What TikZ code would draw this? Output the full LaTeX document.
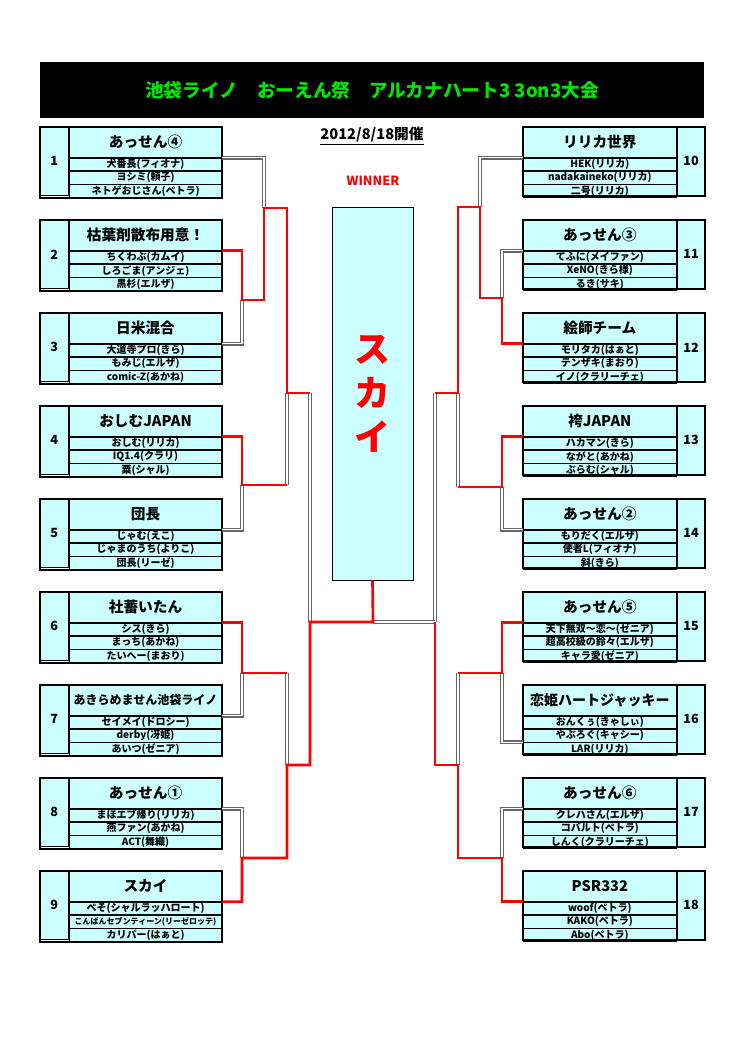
\documentclass[tikz,border=0pt]{standalone}
\usepackage{fontspec}
\setmainfont{Noto Sans CJK JP}
\usetikzlibrary{positioning}
\definecolor{cellcyan}{RGB}{204,255,255}
\definecolor{titlegreen}{RGB}{0,230,0}
\tikzset{
  cell/.style={draw=black, line width=0.5pt, fill=cellcyan, inner sep=0pt},
  numcell/.style={cell, minimum width=21pt, minimum height=51pt, font=\bfseries\fontsize{9.5}{10}\selectfont},
  headcell/.style={cell, minimum width=114.75pt, minimum height=22.5pt, font=\bfseries\fontsize{11}{12}\selectfont},
  rowcell/.style={cell, minimum width=114.75pt, minimum height=9.5pt, font=\bfseries\fontsize{7.5}{8}\selectfont},
  teamframe/.style={draw=black, line width=1.4pt},
  lost/.style={draw=black!60, double=white, double distance=0.9pt, line width=0.95pt},
  won/.style={draw=red, line width=2pt},
}
% チーム枠（左：番号が左、右：番号が右）
\newcommand\teamL[6]{%
  \node[numcell, anchor=north west] (n#1) at (40,#2) {#1};
  \node[headcell, anchor=north west] (h#1) at (n#1.north east) {#3};
  \node[rowcell, below=0pt of h#1] (a#1) {#4};
  \node[rowcell, below=0pt of a#1] (b#1) {#5};
  \node[rowcell, below=0pt of b#1] (c#1) {#6};
  \draw[teamframe] (n#1.north west) rectangle (c#1.south east);
  \draw[teamframe] (n#1.north east) -- (n#1.south east);
}
\newcommand\teamR[6]{%
  \node[headcell, anchor=north west] (h#1) at (523,#2) {#3};
  \node[numcell, anchor=north west] (n#1) at (h#1.north east) {#1};
  \node[rowcell, below=0pt of h#1] (a#1) {#4};
  \node[rowcell, below=0pt of a#1] (b#1) {#5};
  \node[rowcell, below=0pt of b#1] (c#1) {#6};
  \draw[teamframe] (h#1.north west) rectangle (n#1.south east);
  \draw[teamframe] (n#1.north west) -- (n#1.south west);
}
\begin{document}
\begin{tikzpicture}[x=0.75pt, y=-0.75pt]
  \useasboundingbox (0,0) rectangle (744,1053);
  % タイトル
  \node[fill=black, minimum width=498pt, minimum height=42pt, text=titlegreen,
        font=\bfseries\fontsize{14}{15}\selectfont] (title) at (372,90)
        {池袋ライノ　おーえん祭　アルカナハート3 3on3大会};
  \node[font=\bfseries\fontsize{11}{12}\selectfont] (date) at (372,136) {\underline{2012/8/18開催}};
  \node[text=red, font=\bfseries\fontsize{9.5}{10}\selectfont] (winlbl) at (373,181) {WINNER};
  % 優勝
  \node[draw=black, line width=0.6pt, fill=cellcyan, minimum width=60.75pt, minimum height=279.75pt,
        text=red, align=center, font=\bfseries\fontsize{27}{33}\selectfont] (win) at (372.5,393.5) {ス\\カ\\イ};
  % 左ブロック
  \teamL{1}{127}{あっせん④}{犬番長(フィオナ)}{ヨシミ(頼子)}{ネトゲおじさん(ペトラ)}
  \teamL{2}{220}{枯葉剤散布用意！}{ちくわぶ(カムイ)}{しろごま(アンジェ)}{黒杉(エルザ)}
  \teamL{3}{313}{日米混合}{大道寺プロ(きら)}{もみじ(エルザ)}{comic-Z(あかね)}
  \teamL{4}{406}{おしむJAPAN}{おしむ(リリカ)}{IQ1.4(クラリ)}{粟(シャル)}
  \teamL{5}{499}{団長}{じゃむ(えこ)}{じゃまのうち(よりこ)}{団長(リーゼ)}
  \teamL{6}{592}{社蓄いたん}{シス(きら)}{まっち(あかね)}{たいへー(まおり)}
  \teamL{7}{685}{{\fontsize{9}{10}\selectfont あきらめません池袋ライノ}}{セイメイ(ドロシー)}{derby(冴姫)}{あいつ(ゼニア)}
  \teamL{8}{778}{あっせん①}{まほエブ帰り(リリカ)}{燕ファン(あかね)}{ACT(舞織)}
  \teamL{9}{871}{スカイ}{ぺそ(シャルラッハロート)}{{\fontsize{6}{6}\selectfont こんばんセブンティーン(リーゼロッテ)}}{カリパー(はぁと)}
  % 右ブロック
  \teamR{10}{127}{リリカ世界}{HEK(リリカ)}{nadakaineko(リリカ)}{二号(リリカ)}
  \teamR{11}{220}{あっせん③}{てふに(メイファン)}{XeNO(きら様)}{るき(サキ)}
  \teamR{12}{313}{絵師チーム}{モリタカ(はぁと)}{テンザキ(まおり)}{イノ(クラリーチェ)}
  \teamR{13}{406}{袴JAPAN}{ハカマン(きら)}{ながと(あかね)}{ぶらむ(シャル)}
  \teamR{14}{499}{あっせん②}{もりだく(エルザ)}{使者L(フィオナ)}{斜(きら)}
  \teamR{15}{592}{あっせん⑤}{天下無双～恋～(ゼニア)}{超高校級の鈴々(エルザ)}{キャラ愛(ゼニア)}
  \teamR{16}{685}{{\fontsize{10.5}{11}\selectfont 恋姫ハートジャッキー}}{おんくぅ(きゃしぃ)}{やぶろぐ(キャシー)}{LAR(リリカ)}
  \teamR{17}{778}{あっせん⑥}{クレハさん(エルザ)}{コバルト(ペトラ)}{しんく(クラリーチェ)}
  \teamR{18}{871}{PSR332}{woof(ペトラ)}{KAKO(ペトラ)}{Abo(ペトラ)}
  % 分岐点
  \coordinate (m23) at (242,300);
  \coordinate (m45) at (242,485);
  \coordinate (m67) at (242,673);
  \coordinate (m89) at (242,858);
  \coordinate (m123) at (264,208);
  \coordinate (mL1) at (287,393);
  \coordinate (mL2) at (287,765);
  \coordinate (mL) at (310,622);
  \coordinate (fin) at (373,622);
  \coordinate (n1112) at (502,298);
  \coordinate (n1314) at (502,487);
  \coordinate (n1516) at (502,673);
  \coordinate (n1718) at (502,858);
  \coordinate (n1012) at (480,207);
  \coordinate (mR1) at (458,393);
  \coordinate (mR2) at (458,765);
  \coordinate (mR) at (435,622);
  % 敗退（二重線）
  \draw[lost] (h1.south east) -| (m123);
  \draw[lost] (h3.south east) -| (m23);
  \draw[lost] (h5.south east) -| (m45);
  \draw[lost] (m45 -| mL1) -- (mL1);
  \draw[lost] (mL1 -| mL) -- (mL);
  \draw[lost] (h7.south east) -| (m67);
  \draw[lost] (m67 -| mL2) -- (mL2);
  \draw[lost] (h8.south east) -| (m89);
  \draw[lost] (h10.south west) -| (n1012);
  \draw[lost] (h11.south west) -| (n1112);
  \draw[lost] (h14.south west) -| (n1314);
  \draw[lost] (n1314 -| mR1) -- (mR1);
  \draw[lost] (mR1 -| mR) -- (mR);
  \draw[lost] (b16.south west) -| (n1516);
  \draw[lost] (n1516 -| mR2) -- (mR2);
  \draw[lost] (h17.south west) -| (n1718);
  \draw[lost] (mR) -- (fin);
  % 勝ち上がり（赤）
  \draw[won] (h2.south east) -| (m23) -| (m123) -| (mL1) -- (mL1 -| mL);
  \draw[won] (h4.south east) -| (m45) -- (m45 -| mL1);
  \draw[won] (h6.south east) -| (m67) -- (m67 -| mL2);
  \draw[won] (h9.south east) -| (m89) -| (mL2) -| (mL) -- (fin) -- (win.south);
  \draw[won] (h12.south west) -| (n1112) -| (n1012) -| (mR1) -- (mR1 -| mR);
  \draw[won] (h13.south west) -| (n1314) -- (n1314 -| mR1);
  \draw[won] (h15.south west) -| (n1516) -- (n1516 -| mR2);
  \draw[won] (h18.south west) -| (n1718) -| (mR2) -| (mR);
\end{tikzpicture}
\end{document}
